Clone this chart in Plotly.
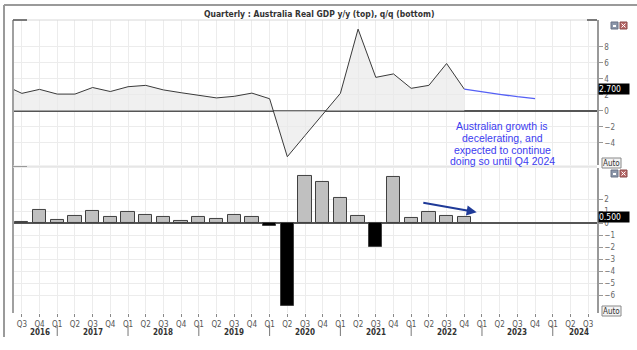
import plotly.graph_objects as go

# ---------------- data ----------------
periods = ["Q2 2016", "Q3 2016", "Q4 2016",
           "Q1 2017", "Q2 2017", "Q3 2017", "Q4 2017",
           "Q1 2018", "Q2 2018", "Q3 2018", "Q4 2018",
           "Q1 2019", "Q2 2019", "Q3 2019", "Q4 2019",
           "Q1 2020", "Q2 2020", "Q3 2020", "Q4 2020",
           "Q1 2021", "Q2 2021", "Q3 2021", "Q4 2021",
           "Q1 2022", "Q2 2022", "Q3 2022", "Q4 2022",
           "Q1 2023", "Q2 2023", "Q3 2023", "Q4 2023",
           "Q1 2024", "Q2 2024", "Q3 2024"]

# y/y GDP growth, Q2 2016 .. Q4 2022
yoy = [3.2, 2.17, 2.67,
       2.08, 2.08, 2.9, 2.4,
       3.0, 3.17, 2.6, 2.25,
       1.9, 1.6, 1.8, 2.2,
       1.5, -5.75, -3.1, -0.45,
       2.17, 10.2, 4.17, 4.6,
       2.8, 3.17, 5.9, 2.7]

# forecast y/y, Q4 2022 .. Q4 2023
fc_periods = ["Q4 2022", "Q1 2023", "Q2 2023", "Q3 2023", "Q4 2023"]
fc_yoy = [2.7, 2.35, 2.05, 1.75, 1.5]

# q/q GDP growth, Q3 2016 .. Q4 2022
qoq_periods = periods[1:27]
qoq = [0.14, 1.14,
       0.28, 0.61, 1.0, 0.5,
       0.92, 0.67, 0.5, 0.17,
       0.5, 0.39, 0.67, 0.5,
       -0.22, -6.9, 3.94, 3.42,
       2.14, 0.64, -2.0, 3.89,
       0.42, 0.92, 0.64, 0.5]

axis_periods = periods[1:]          # Q3 2016 .. Q3 2024 shown on the axis
years = ["2016", "2017", "2018", "2019", "2020", "2021", "2022", "2023", "2024"]

last_yoy_label = "2.700"
last_qoq_label = "0.500"

title = "Quarterly : Australia Real GDP y/y (top), q/q (bottom)"
note_lines = ["Australian growth is", "decelerating, and",
              "expected to continue", "doing so until Q4 2024"]

# ---------------- helpers ----------------
idx = {p: i for i, p in enumerate(periods)}
x_yoy = [idx[p] for p in periods[:len(yoy)]]
x_fc = [idx[p] for p in fc_periods]
x_qoq = [idx[p] for p in qoq_periods]
x_axis = [idx[p] for p in axis_periods]
qlabels = [p.split()[0] for p in axis_periods]

FONT = "DejaVu Sans Condensed, Liberation Sans Narrow, DejaVu Sans, sans-serif"
GRID = "#ececec"
PH = 293.0  # plot height in px
PW = 584.0  # plot width in px
L, T = 13.0, 20.0


def px(x):
    return (x - L) / PW


def py(y):
    return (L + PH + T - L - y) / PH  # (313 - y) / 293


fig = go.Figure()

fig.add_trace(go.Scatter(
    x=x_yoy, y=yoy, mode="lines", fill="tozeroy",
    fillcolor="rgba(234,234,234,0.7)",
    line=dict(color="#3a3a3a", width=1), xaxis="x", yaxis="y",
    hoverinfo="skip", showlegend=False))

fig.add_trace(go.Scatter(
    x=x_fc, y=fc_yoy, mode="lines",
    line=dict(color="#5560f5", width=1.3), xaxis="x", yaxis="y",
    hoverinfo="skip", showlegend=False))

fig.add_trace(go.Bar(
    x=x_qoq, y=qoq, width=0.75,
    marker=dict(color=["#c0c0c0" if v >= 0 else "#000000" for v in qoq],
                line=dict(color="#404040", width=1)),
    xaxis="x2", yaxis="y2", hoverinfo="skip", showlegend=False))

xr = [x_axis[0] - 0.5, x_axis[-1] + 0.5]

fig.update_layout(
    width=637, height=350,
    margin=dict(l=13, r=40, t=20, b=37),
    paper_bgcolor="white", plot_bgcolor="white",
    font=dict(family=FONT, size=8, color="#555"),
    bargap=0,
    xaxis=dict(domain=[0, 1], anchor="y", range=xr, showticklabels=False,
               tickvals=x_axis, showgrid=True, gridcolor=GRID, zeroline=False,
               ticks=""),
    xaxis2=dict(domain=[0, 1], anchor="y2", range=xr, tickvals=x_axis,
                ticktext=qlabels, showgrid=True, gridcolor=GRID,
                zeroline=False, ticks="outside", ticklen=3, tickcolor="#888",
                tickfont=dict(size=8, color="#555", family=FONT)),
    yaxis=dict(domain=[0.505, 1], anchor="x", side="right",
               range=[-6.79, 11.34], tickvals=[-4, -2, 0, 2, 4, 6, 8],
               showgrid=True, gridcolor=GRID, zeroline=True,
               zerolinecolor="#555", zerolinewidth=1.5,
               showline=True, linecolor="#999", linewidth=1.5,
               ticks="outside", ticklen=4, tickcolor="#999",
               tickfont=dict(size=8, color="#666", family=FONT)),
    yaxis2=dict(domain=[0, 0.495], anchor="x2", side="right",
                range=[-7.47, 4.6], tickvals=list(range(-6, 3)),
                showgrid=True, gridcolor=GRID, zeroline=True,
                zerolinecolor="#555", zerolinewidth=1.5,
                showline=True, linecolor="#999", linewidth=1.5,
                ticks="outside", ticklen=4, tickcolor="#999",
                tickfont=dict(size=8, color="#666", family=FONT)),
)

shapes = []
# outer frame (left + top)
shapes.append(dict(type="line", xref="paper", yref="paper",
                   x0=px(4), x1=px(4), y0=py(337), y1=py(5),
                   line=dict(color="#9a9a9a", width=2)))
shapes.append(dict(type="line", xref="paper", yref="paper",
                   x0=px(4), x1=px(637), y0=py(5), y1=py(5),
                   line=dict(color="#9a9a9a", width=2)))
# plot frame left + top
shapes.append(dict(type="line", xref="paper", yref="paper", x0=0, x1=0, y0=0, y1=1,
                   line=dict(color="#a0a0a0", width=2)))
shapes.append(dict(type="line", xref="paper", yref="paper", x0=0, x1=1, y0=1, y1=1,
                   line=dict(color="#d8d8d8", width=1)))
# corner brackets
shapes.append(dict(type="line", xref="paper", yref="paper", x0=0, x1=14 / PW, y0=1, y1=1,
                   line=dict(color="#555", width=1.5)))
shapes.append(dict(type="line", xref="paper", yref="paper", x0=1 - 10 / PW, x1=1, y0=1, y1=1,
                   line=dict(color="#555", width=1.5)))
# separator between panels
shapes.append(dict(type="rect", xref="paper", yref="paper", x0=0, x1=1,
                   y0=0.496, y1=0.503, fillcolor="#e6e6e6", line=dict(width=0)))
shapes.append(dict(type="line", xref="paper", yref="paper", x0=0, x1=14 / PW,
                   y0=0.5, y1=0.5, line=dict(color="#999", width=1)))
# year separators
for i, p in enumerate(axis_periods):
    if p.startswith("Q1"):
        xv = x_axis[i]
        shapes.append(dict(type="line", xref="x2", yref="paper", x0=xv, x1=xv,
                           y0=-12 / PH, y1=-23 / PH,
                           line=dict(color="#777", width=1)))
# Auto boxes (outlines)
auto_y = [163, 311]
for yc in auto_y:
    shapes.append(dict(type="rect", xref="paper", yref="paper",
                       x0=px(602), x1=px(621), y0=py(yc + 5), y1=py(yc - 5),
                       fillcolor="#f4f4f4", line=dict(color="#888", width=1)))
# window buttons
for ytop in [22, 170]:
    shapes.append(dict(type="rect", xref="paper", yref="paper",
                       x0=px(611), x1=px(618), y0=py(ytop + 7), y1=py(ytop),
                       fillcolor="#8c97aa", line=dict(color="#6a7385", width=1)))
    shapes.append(dict(type="rect", xref="paper", yref="paper",
                       x0=px(613), x1=px(616), y0=py(ytop + 5), y1=py(ytop + 3),
                       fillcolor="white", line=dict(width=0)))
    shapes.append(dict(type="rect", xref="paper", yref="paper",
                       x0=px(620), x1=px(627), y0=py(ytop + 7), y1=py(ytop),
                       fillcolor="#b86a6a", line=dict(color="#8a4a4a", width=1)))
    shapes.append(dict(type="line", xref="paper", yref="paper",
                       x0=px(621.5), x1=px(625.5), y0=py(ytop + 5.5), y1=py(ytop + 1.5),
                       line=dict(color="white", width=1)))
    shapes.append(dict(type="line", xref="paper", yref="paper",
                       x0=px(621.5), x1=px(625.5), y0=py(ytop + 1.5), y1=py(ytop + 5.5),
                       line=dict(color="white", width=1)))
fig.update_layout(shapes=shapes)

ann = []
ann.append(dict(text="<b>" + title + "</b>", xref="paper", yref="paper",
                x=px(319), y=py(14), xanchor="center", yanchor="middle",
                showarrow=False, font=dict(size=8.5, color="#333", family=FONT)))

# year labels
for yr in years:
    xs = [x_axis[i] for i, p in enumerate(axis_periods) if p.endswith(yr)]
    xc = (xs[0] + xs[-1]) / 2 + 0.5
    ann.append(dict(text="<b>" + yr + "</b>", xref="x2", yref="paper", x=xc, y=0,
                    yshift=-19, xanchor="center", yanchor="middle", showarrow=False,
                    font=dict(size=8, color="#333", family=FONT)))

# note text
note_y = [-1.91, -3.35, -4.85, -6.29]
for line, yv in zip(note_lines, note_y):
    ann.append(dict(text=line, xref="paper", yref="y", x=px(502), y=yv,
                    xanchor="center", yanchor="middle", showarrow=False,
                    font=dict(size=10.5, color="#3c3cf0",
                              family="Liberation Sans, Arial, sans-serif")))

# arrow in bottom panel
ann.append(dict(x=x_qoq[-1] + 0.7, y=0.92, xref="x2", yref="y2",
                ax=x_qoq[-4] + 0.6, ay=1.72, axref="x2", ayref="y2",
                showarrow=True, arrowhead=2, arrowsize=1, arrowwidth=2,
                arrowcolor="#1f3a98", text=""))

# last value labels
ann.append(dict(text=last_yoy_label, xref="paper", yref="y", x=1, y=yoy[-1],
                xanchor="left", yanchor="middle", xshift=1, showarrow=False,
                bgcolor="#000", font=dict(size=8.5, color="white", family=FONT),
                borderpad=0, width=30, align="left"))
ann.append(dict(text=last_qoq_label, xref="paper", yref="y2", x=1, y=qoq[-1],
                xanchor="left", yanchor="middle", xshift=1, showarrow=False,
                bgcolor="#000", font=dict(size=8.5, color="white", family=FONT),
                borderpad=0, width=30, align="left"))

# Auto labels
for yc in auto_y:
    ann.append(dict(text="Auto", xref="paper", yref="paper", x=px(611.5), y=py(yc),
                    xanchor="center", yanchor="middle", showarrow=False,
                    font=dict(size=8, color="#333", family=FONT)))

fig.update_layout(annotations=ann)

fig.write_html("out.html")
